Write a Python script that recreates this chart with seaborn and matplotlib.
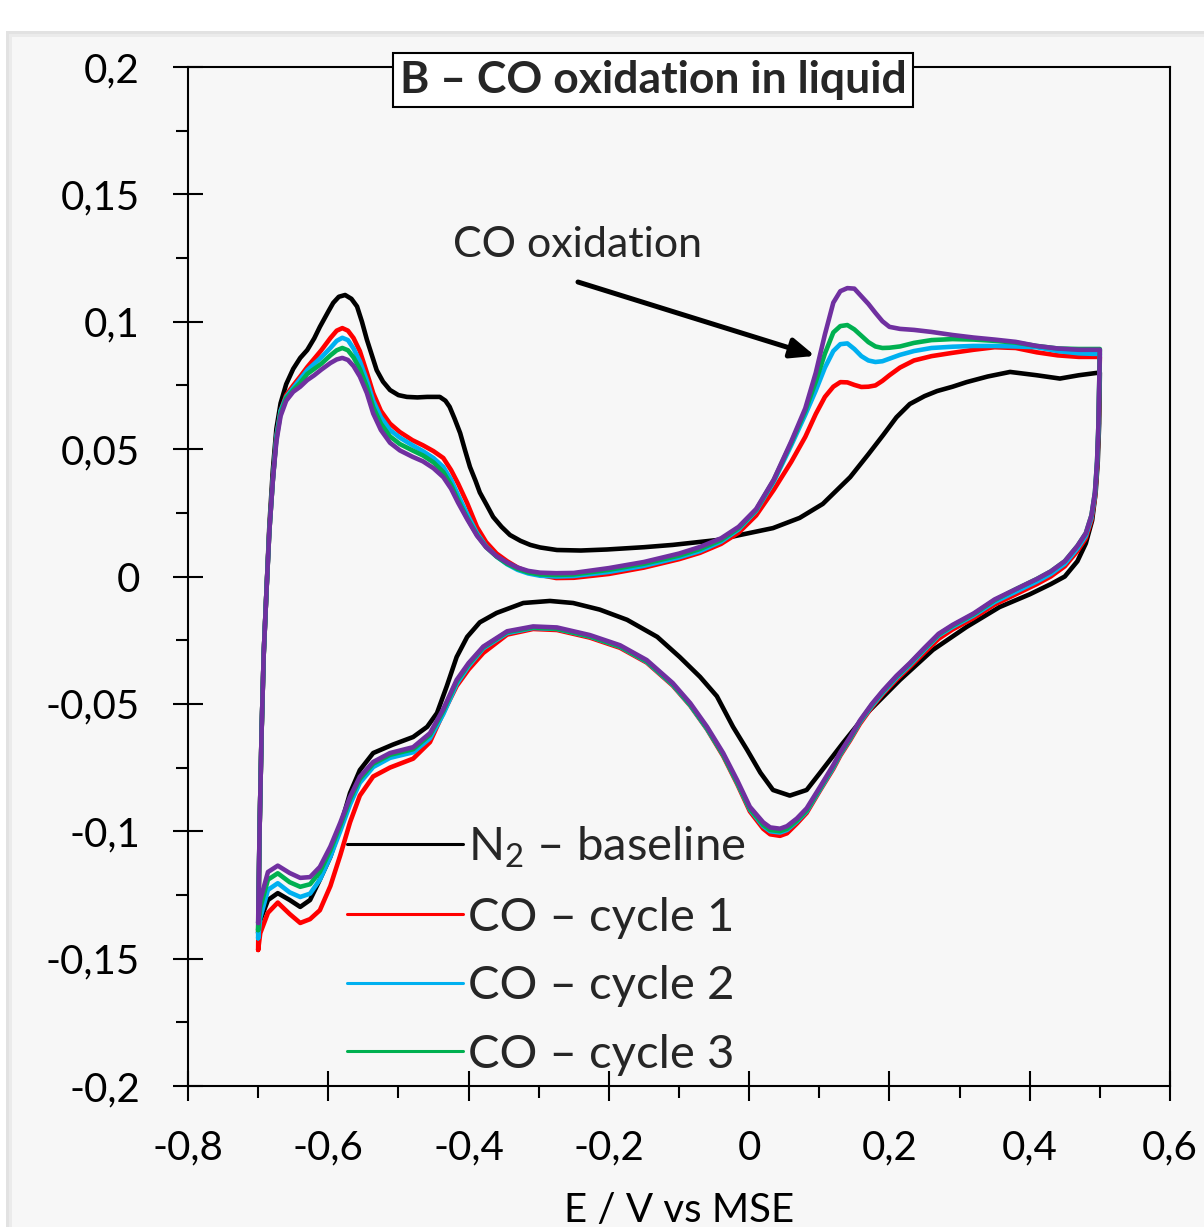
import pandas as pd
import seaborn as sns
import matplotlib
matplotlib.use("Agg")
import matplotlib.pyplot as plt
from matplotlib.patches import Rectangle
from matplotlib.lines import Line2D
from matplotlib.ticker import MultipleLocator

# ---- data (E in V vs MSE, j current) ----
# N2 baseline, anodic (forward) sweep
E_fwd_N2 = [-0.700, -0.698, -0.695, -0.692, -0.688, -0.684, -0.679, -0.674, -0.668, -0.660,
            -0.650, -0.640, -0.630, -0.620, -0.612, -0.600, -0.593, -0.585, -0.576, -0.567,
            -0.559, -0.552, -0.545, -0.538, -0.531, -0.522, -0.512, -0.500, -0.488, -0.473,
            -0.459, -0.441, -0.433, -0.427, -0.420, -0.412, -0.405, -0.398, -0.390, -0.384,
            -0.374, -0.365, -0.353, -0.341, -0.326, -0.312, -0.298, -0.274, -0.240, -0.203,
            -0.150, -0.109, -0.046, -0.013, 0.034, 0.072, 0.105, 0.144, 0.170, 0.191,
            0.210, 0.229, 0.250, 0.268, 0.290, 0.310, 0.340, 0.372, 0.410, 0.443,
            0.470, 0.495, 0.500]
j_fwd_N2 = [-0.1400, -0.100, -0.060, -0.030, -0.005, 0.020, 0.042, 0.058, 0.068, 0.0755,
            0.0815, 0.0858, 0.0889, 0.0935, 0.0980, 0.1040, 0.1074, 0.1098, 0.1105, 0.1090,
            0.1060, 0.1000, 0.0930, 0.0870, 0.0810, 0.0765, 0.0732, 0.0712, 0.0705, 0.0703,
            0.0705, 0.0705, 0.0690, 0.0666, 0.0620, 0.0563, 0.0495, 0.0430, 0.0375, 0.0330,
            0.0280, 0.0234, 0.0195, 0.0163, 0.0140, 0.0124, 0.0114, 0.0104, 0.0102, 0.0106,
            0.0115, 0.0124, 0.0143, 0.0163, 0.0190, 0.0230, 0.0285, 0.0390, 0.0480, 0.0555,
            0.0625, 0.0677, 0.0708, 0.0728, 0.0745, 0.0763, 0.0785, 0.0803, 0.0790, 0.0777,
            0.0790, 0.0799, 0.0800]

# N2 baseline, cathodic (reverse) sweep
E_rev_N2 = [0.500, 0.499, 0.497, 0.494, 0.489, 0.480, 0.468, 0.450, 0.430, 0.400,
            0.357, 0.310, 0.262, 0.215, 0.168, 0.134, 0.101, 0.082, 0.058, 0.034,
            0.016, -0.003, -0.023, -0.046, -0.070, -0.099, -0.131, -0.174, -0.213, -0.251,
            -0.284, -0.322, -0.360, -0.384, -0.402, -0.417, -0.431, -0.445, -0.459, -0.479,
            -0.508, -0.536, -0.555, -0.569, -0.583, -0.597, -0.612, -0.626, -0.640, -0.655,
            -0.672, -0.686, -0.697, -0.700]
j_rev_N2 = [0.0800, 0.0600, 0.0450, 0.0330, 0.0220, 0.0130, 0.0060, 0.0000, -0.0030, -0.0070,
            -0.0120, -0.0198, -0.0288, -0.0406, -0.0536, -0.0653, -0.0771, -0.0838, -0.0860, -0.0838,
            -0.0770, -0.0680, -0.0590, -0.0470, -0.0394, -0.0316, -0.0237, -0.0170, -0.0130, -0.0104,
            -0.0096, -0.0104, -0.0143, -0.0180, -0.0237, -0.0316, -0.0430, -0.0536, -0.0590, -0.0630,
            -0.0660, -0.0693, -0.0760, -0.0850, -0.0983, -0.1100, -0.1190, -0.1270, -0.1297, -0.1270,
            -0.1243, -0.1270, -0.1350, -0.1400]

# CO cycles, forward sweep (shared potentials)
E_fwd_CO = [-0.700, -0.698, -0.695, -0.692, -0.688, -0.684, -0.679, -0.674, -0.668, -0.660,
            -0.650, -0.640, -0.630, -0.620, -0.610, -0.597, -0.588, -0.580, -0.572, -0.564,
            -0.555, -0.545, -0.536, -0.525, -0.512, -0.498, -0.480, -0.465, -0.450, -0.436,
            -0.425, -0.415, -0.402, -0.388, -0.375, -0.360, -0.345, -0.330, -0.315, -0.298,
            -0.275, -0.250, -0.200, -0.150, -0.100, -0.070, -0.040, -0.015, 0.010, 0.035,
            0.060, 0.080, 0.095, 0.108, 0.120, 0.130, 0.140, 0.150, 0.160, 0.170,
            0.180, 0.190, 0.200, 0.215, 0.235, 0.260, 0.290, 0.320, 0.350, 0.380,
            0.410, 0.440, 0.470, 0.490, 0.500]
j_fwd_c1 = [-0.1466, -0.100, -0.060, -0.030, -0.005, 0.018, 0.038, 0.055, 0.065, 0.0712,
            0.0750, 0.0785, 0.0822, 0.0855, 0.0888, 0.0936, 0.0965, 0.0975, 0.0965, 0.0936,
            0.0885, 0.0800, 0.0720, 0.0650, 0.0600, 0.0567, 0.0535, 0.0515, 0.0492, 0.0465,
            0.0418, 0.0365, 0.0288, 0.0194, 0.0135, 0.0090, 0.0060, 0.0035, 0.0018, 0.0006,
            -0.0006, -0.0005, 0.0010, 0.0035, 0.0068, 0.0093, 0.0128, 0.0172, 0.0240, 0.0340,
            0.0450, 0.0548, 0.0638, 0.0705, 0.0745, 0.0763, 0.0762, 0.0752, 0.0744, 0.0745,
            0.0750, 0.0768, 0.0790, 0.0820, 0.0848, 0.0865, 0.0878, 0.0890, 0.0900, 0.0897,
            0.0880, 0.0868, 0.0862, 0.0862, 0.0862]
j_fwd_c2 = [-0.1420, -0.100, -0.060, -0.030, -0.005, 0.018, 0.038, 0.055, 0.065, 0.0705,
            0.0740, 0.0775, 0.0810, 0.0835, 0.0860, 0.0897, 0.0925, 0.0937, 0.0928, 0.0895,
            0.0845, 0.0770, 0.0690, 0.0625, 0.0575, 0.0545, 0.0515, 0.0492, 0.0465, 0.0430,
            0.0380, 0.0320, 0.0245, 0.0170, 0.0118, 0.0078, 0.0048, 0.0026, 0.0012, 0.0003,
            0.0000, 0.0002, 0.0018, 0.0042, 0.0075, 0.0100, 0.0137, 0.0185, 0.0258, 0.0372,
            0.0515, 0.0635, 0.0730, 0.0820, 0.0885, 0.0912, 0.0915, 0.0893, 0.0865, 0.0848,
            0.0842, 0.0845, 0.0855, 0.0870, 0.0885, 0.0897, 0.0902, 0.0905, 0.0905, 0.0903,
            0.0900, 0.0885, 0.0876, 0.0874, 0.0874]
j_fwd_c3 = [-0.1388, -0.100, -0.060, -0.030, -0.005, 0.018, 0.038, 0.054, 0.064, 0.0700,
            0.0732, 0.0760, 0.0795, 0.0815, 0.0835, 0.0868, 0.0888, 0.0897, 0.0888, 0.0860,
            0.0815, 0.0745, 0.0665, 0.0600, 0.0550, 0.0520, 0.0495, 0.0475, 0.0448, 0.0410,
            0.0360, 0.0300, 0.0230, 0.0163, 0.0115, 0.0078, 0.0050, 0.0030, 0.0016, 0.0008,
            0.0006, 0.0008, 0.0026, 0.0050, 0.0082, 0.0108, 0.0143, 0.0190, 0.0262, 0.0378,
            0.0525, 0.0650, 0.0765, 0.0875, 0.0958, 0.0983, 0.0987, 0.0970, 0.0945, 0.0920,
            0.0903, 0.0897, 0.0898, 0.0903, 0.0917, 0.0928, 0.0932, 0.0930, 0.0925, 0.0918,
            0.0905, 0.0895, 0.0893, 0.0893, 0.0893]
j_fwd_c4 = [-0.1360, -0.100, -0.060, -0.030, -0.005, 0.018, 0.038, 0.053, 0.063, 0.0690,
            0.0725, 0.0745, 0.0771, 0.0790, 0.0812, 0.0838, 0.0852, 0.0858, 0.0850, 0.0826,
            0.0785, 0.0720, 0.0640, 0.0575, 0.0525, 0.0495, 0.0470, 0.0452, 0.0425, 0.0390,
            0.0345, 0.0290, 0.0225, 0.0160, 0.0115, 0.0080, 0.0055, 0.0035, 0.0022, 0.0015,
            0.0013, 0.0014, 0.0033, 0.0057, 0.0090, 0.0116, 0.0150, 0.0195, 0.0265, 0.0380,
            0.0530, 0.0660, 0.0800, 0.0950, 0.1075, 0.1120, 0.1132, 0.1130, 0.1100, 0.1070,
            0.1035, 0.1002, 0.0980, 0.0972, 0.0968, 0.0960, 0.0948, 0.0938, 0.0930, 0.0921,
            0.0905, 0.0895, 0.0890, 0.0890, 0.0890]

# CO cycles, reverse sweep (shared potentials)
E_rev_CO = [0.500, 0.499, 0.498, 0.496, 0.493, 0.488, 0.480, 0.468, 0.450, 0.430,
            0.410, 0.380, 0.350, 0.320, 0.290, 0.270, 0.250, 0.229, 0.210, 0.191,
            0.175, 0.158, 0.144, 0.130, 0.120, 0.101, 0.082, 0.068, 0.054, 0.044,
            0.030, 0.020, 0.001, -0.017, -0.037, -0.060, -0.084, -0.109, -0.146, -0.184,
            -0.227, -0.274, -0.308, -0.345, -0.379, -0.400, -0.417, -0.436, -0.455, -0.479,
            -0.512, -0.536, -0.555, -0.569, -0.583, -0.597, -0.612, -0.626, -0.640, -0.655,
            -0.672, -0.686, -0.697, -0.700]
j_rev_c1 = [0.0862, 0.0720, 0.0570, 0.0430, 0.0310, 0.0220, 0.0150, 0.0100, 0.0040, 0.0000,
            -0.0030, -0.0070, -0.0110, -0.0163, -0.0208, -0.0245, -0.0298, -0.0355, -0.0405, -0.0460,
            -0.0513, -0.0578, -0.0643, -0.0703, -0.0755, -0.0840, -0.0928, -0.0970, -0.1008, -0.1018,
            -0.1012, -0.0990, -0.0922, -0.0815, -0.0705, -0.0600, -0.0507, -0.0428, -0.0338, -0.0280,
            -0.0240, -0.0210, -0.0206, -0.0228, -0.0300, -0.0365, -0.0430, -0.0535, -0.0650, -0.0715,
            -0.0750, -0.0785, -0.0860, -0.0965, -0.1095, -0.1215, -0.1310, -0.1345, -0.1360, -0.1325,
            -0.1280, -0.1320, -0.1400, -0.1466]
j_rev_c2 = [0.0874, 0.0730, 0.0580, 0.0440, 0.0320, 0.0230, 0.0160, 0.0110, 0.0050, 0.0010,
            -0.0020, -0.0060, -0.0100, -0.0153, -0.0198, -0.0232, -0.0288, -0.0348, -0.0398, -0.0455,
            -0.0508, -0.0572, -0.0638, -0.0698, -0.0750, -0.0836, -0.0922, -0.0962, -0.0995, -0.1005,
            -0.1000, -0.0980, -0.0915, -0.0810, -0.0700, -0.0598, -0.0505, -0.0425, -0.0335, -0.0276,
            -0.0236, -0.0206, -0.0202, -0.0222, -0.0282, -0.0352, -0.0422, -0.0540, -0.0635, -0.0690,
            -0.0712, -0.0748, -0.0810, -0.0895, -0.1000, -0.1100, -0.1190, -0.1245, -0.1258, -0.1240,
            -0.1204, -0.1230, -0.1340, -0.1420]
j_rev_c3 = [0.0893, 0.0750, 0.0600, 0.0450, 0.0330, 0.0240, 0.0170, 0.0120, 0.0060, 0.0020,
            -0.0010, -0.0050, -0.0093, -0.0148, -0.0193, -0.0228, -0.0283, -0.0343, -0.0393, -0.0450,
            -0.0503, -0.0568, -0.0635, -0.0695, -0.0745, -0.0832, -0.0918, -0.0958, -0.0990, -0.1000,
            -0.0995, -0.0975, -0.0912, -0.0808, -0.0700, -0.0596, -0.0503, -0.0423, -0.0333, -0.0275,
            -0.0235, -0.0205, -0.0200, -0.0218, -0.0278, -0.0345, -0.0412, -0.0527, -0.0622, -0.0678,
            -0.0700, -0.0735, -0.0795, -0.0875, -0.0978, -0.1075, -0.1160, -0.1208, -0.1218, -0.1200,
            -0.1165, -0.1190, -0.1300, -0.1388]
j_rev_c4 = [0.0890, 0.0750, 0.0600, 0.0450, 0.0330, 0.0240, 0.0170, 0.0120, 0.0060, 0.0020,
            -0.0010, -0.0050, -0.0090, -0.0145, -0.0190, -0.0225, -0.0280, -0.0340, -0.0390, -0.0447,
            -0.0500, -0.0565, -0.0630, -0.0690, -0.0740, -0.0826, -0.0910, -0.0950, -0.0980, -0.0990,
            -0.0985, -0.0965, -0.0904, -0.0800, -0.0693, -0.0590, -0.0497, -0.0418, -0.0328, -0.0270,
            -0.0230, -0.0200, -0.0196, -0.0215, -0.0275, -0.0340, -0.0406, -0.0520, -0.0615, -0.0670,
            -0.0693, -0.0728, -0.0786, -0.0865, -0.0967, -0.1060, -0.1140, -0.1180, -0.1183, -0.1164,
            -0.1135, -0.1160, -0.1270, -0.1360]

legend_labels = ["N$_2$ – baseline", "CO – cycle 1", "CO – cycle 2", "CO – cycle 3"]
colors = ["#000000", "#ff0000", "#00b0f0", "#00b050", "#7030a0"]

x_ticks = [-0.8, -0.6, -0.4, -0.2, 0.0, 0.2, 0.4, 0.6]
x_tick_labels = ["-0,8", "-0,6", "-0,4", "-0,2", "0", "0,2", "0,4", "0,6"]
y_ticks = [-0.2, -0.15, -0.1, -0.05, 0.0, 0.05, 0.1, 0.15, 0.2]
y_tick_labels = ["-0,2", "-0,15", "-0,1", "-0,05", "0", "0,05", "0,1", "0,15", "0,2"]

# ---- style ----
sns.set_style("white")
plt.rcParams["font.family"] = ["Lato", "DejaVu Sans"]
plt.rcParams["mathtext.fontset"] = "custom"
plt.rcParams["mathtext.rm"] = "Lato"
plt.rcParams["mathtext.it"] = "Lato:italic"

W, H = 1204, 1227
fig = plt.figure(figsize=(W / 100, H / 100), dpi=100, facecolor="white")

# grey panel with a soft shadowed edge, like the source slide
for x0, y0, col in [(6, 31, "#e2e2e2"), (9, 34, "#ebebeb"), (12, 37, "#f7f7f7")]:
    fig.patches.append(Rectangle((x0 / W, 0), 1, 1 - y0 / H, transform=fig.transFigure,
                                 facecolor=col, edgecolor="none", zorder=-5))

ax = fig.add_axes([188 / W, (H - 1086) / H, (1170 - 188) / W, (1086 - 67) / H])
ax.set_facecolor("#f7f7f7")

curves = [
    (E_fwd_N2 + E_rev_N2, j_fwd_N2 + j_rev_N2),
    (E_fwd_CO + E_rev_CO, j_fwd_c1 + j_rev_c1),
    (E_fwd_CO + E_rev_CO, j_fwd_c2 + j_rev_c2),
    (E_fwd_CO + E_rev_CO, j_fwd_c3 + j_rev_c3),
    (E_fwd_CO + E_rev_CO, j_fwd_c4 + j_rev_c4),
]
for (E, j), col in zip(curves, colors):
    df = pd.DataFrame({"E": E, "j": j})
    sns.lineplot(data=df, x="E", y="j", sort=False, estimator=None, color=col,
                 lw=3.3, ax=ax, legend=False)
for ln in ax.lines:
    ln.set_solid_joinstyle("round")

ax.set_xlim(-0.8, 0.6)
ax.set_ylim(-0.2, 0.2)
ax.set_xticks(x_ticks)
ax.set_xticklabels(x_tick_labels)
ax.set_yticks(y_ticks)
ax.set_yticklabels(y_tick_labels)
ax.xaxis.set_minor_locator(MultipleLocator(0.1))
ax.yaxis.set_minor_locator(MultipleLocator(0.025))
ax.tick_params(which="major", direction="inout", length=21, width=1.5, color="black",
               labelsize=29, labelcolor="black")
ax.tick_params(axis="y", which="major", pad=24)
ax.tick_params(axis="x", which="major", pad=21)
ax.tick_params(which="minor", direction="out", length=8.5, width=1.5, color="black")
ax.tick_params(which="both", top=False, right=False, bottom=True, left=True)
for s in ax.spines.values():
    s.set_color("black")
    s.set_linewidth(1.5)

ax.set_xlabel("E / V vs MSE", fontsize=29, labelpad=18, color="black")
ax.set_ylabel("")

# annotation for the CO stripping peak
ax.text(-0.422, 0.1301, "CO oxidation", fontsize=31, ha="left", va="center")
ax.annotate("", xy=(0.094, 0.0866), xytext=(-0.244, 0.1156),
            arrowprops=dict(arrowstyle="-|>,head_length=0.72,head_width=0.3",
                            color="black", lw=3.6, mutation_scale=20,
                            shrinkA=0, shrinkB=0))

# title box
fig.text(653 / W, 1 - 80 / H, "B – CO oxidation in liquid", fontsize=32,
         fontweight="bold", ha="center", va="center",
         bbox=dict(boxstyle="square,pad=0.15", fc="white", ec="black", lw=1.5))

handles = [Line2D([], [], color=c, lw=2.2) for c in colors[:4]]
ax.legend(handles, legend_labels, loc="upper left",
          bbox_to_anchor=(347 / W, 1 - 825 / H), bbox_transform=fig.transFigure,
          frameon=False, fontsize=34, handlelength=2.45, handletextpad=0.12,
          labelspacing=0.56, borderpad=0, borderaxespad=0)

fig.savefig("out.png", dpi=100, facecolor=fig.get_facecolor())
